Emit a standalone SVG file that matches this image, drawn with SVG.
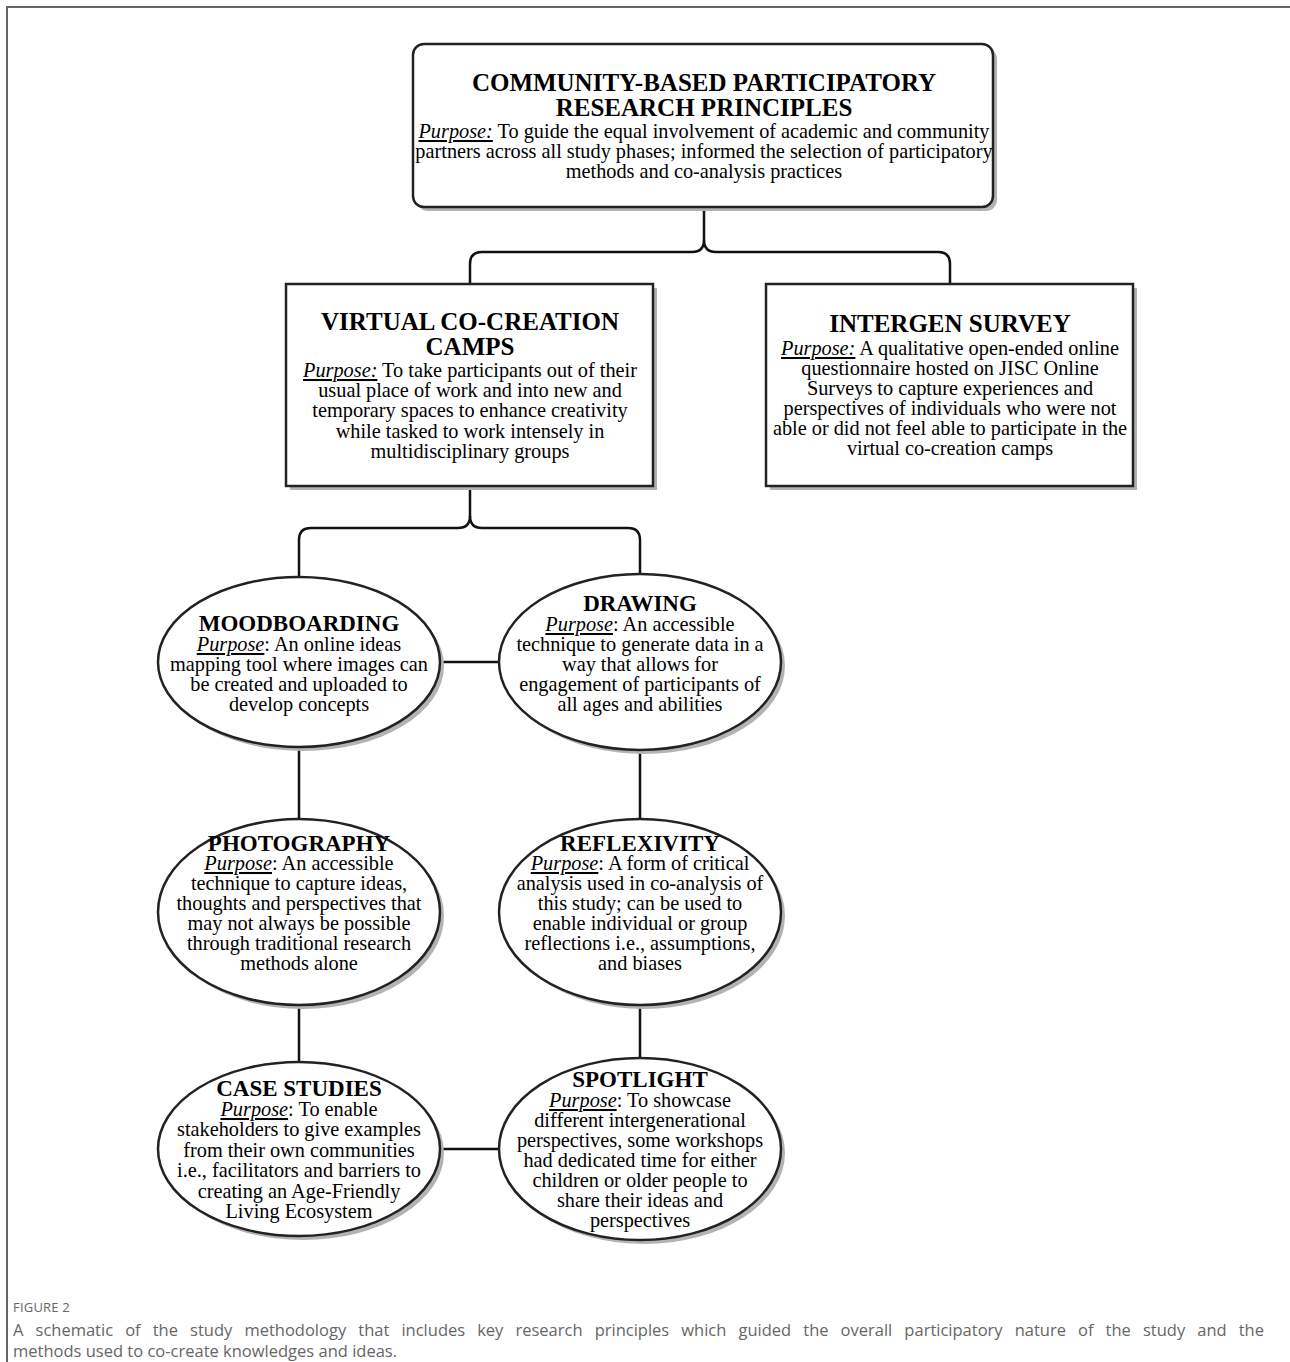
<svg xmlns="http://www.w3.org/2000/svg" width="1290" height="1362" viewBox="0 0 1290 1362">
<style>
.sh{fill:#b3b3b3;stroke:none}
.nd{fill:#fff;stroke:#222;stroke-width:2.5}
.cn{fill:none;stroke:#111;stroke-width:2.5}
.h{font-family:"Liberation Serif","Times New Roman",serif;font-weight:bold;font-size:25px;fill:#000;text-anchor:middle}
.eh{font-family:"Liberation Serif","Times New Roman",serif;font-weight:bold;font-size:23px;fill:#000;text-anchor:middle}
.b{font-family:"Liberation Serif","Times New Roman",serif;font-size:20.3px;fill:#000;text-anchor:middle}
.p{font-style:italic;text-decoration:underline}
.cap1{font-family:"Open Sans","Noto Sans",sans-serif;font-size:13px;fill:#666;letter-spacing:0.2px}
.cap2{font-family:"Open Sans","Noto Sans",sans-serif;font-size:16.5px;fill:#666}
</style>
<rect width="1290" height="1362" fill="#fff"/>
<path d="M7 1362 V7 H1290" fill="none" stroke="#666" stroke-width="2"/>

<g id="connectors">
<path class="cn" d="M704 207 V240 Q704 252 692 252 H482 Q470 252 470 264 V284"/>
<path class="cn" d="M704 240 Q704 252 716 252 H938 Q950 252 950 264 V284"/>
<path class="cn" d="M470 486 V516 Q470 528 458 528 H311 Q299 528 299 540 V577"/>
<path class="cn" d="M470 516 Q470 528 482 528 H628 Q640 528 640 540 V575"/>
<path class="cn" d="M440 662 H499"/>
<path class="cn" d="M299 747 V820"/>
<path class="cn" d="M640 750 V820"/>
<path class="cn" d="M299 1004 V1062"/>
<path class="cn" d="M640 1004 V1058"/>
<path class="cn" d="M440 1149 H499"/>
</g>

<g id="cbpr">
<rect class="sh" x="417" y="48" width="580" height="163" rx="11"/>
<rect class="nd" x="413" y="44" width="580" height="163" rx="11"/>
<text class="h" x="704" y="91">COMMUNITY-BASED PARTICIPATORY</text>
<text class="h" x="704" y="116">RESEARCH PRINCIPLES</text>
<text class="b" x="704" y="138"><tspan class="p">Purpose:</tspan> To guide the equal involvement of academic and community</text>
<text class="b" x="704" y="158">partners across all study phases; informed the selection of participatory</text>
<text class="b" x="704" y="178">methods and co-analysis practices</text>
</g>

<g id="camps">
<rect class="sh" x="290" y="288" width="367" height="202"/>
<rect class="nd" x="286" y="284" width="367" height="202"/>
<text class="h" x="470" y="330">VIRTUAL CO-CREATION</text>
<text class="h" x="470" y="355">CAMPS</text>
<text class="b" x="470" y="377"><tspan class="p">Purpose:</tspan> To take participants out of their</text>
<text class="b" x="470" y="397">usual place of work and into new and</text>
<text class="b" x="470" y="417">temporary spaces to enhance creativity</text>
<text class="b" x="470" y="438">while tasked to work intensely in</text>
<text class="b" x="470" y="458">multidisciplinary groups</text>
</g>

<g id="survey">
<rect class="sh" x="770" y="288" width="367" height="202"/>
<rect class="nd" x="766" y="284" width="367" height="202"/>
<text class="h" x="950" y="332">INTERGEN SURVEY</text>
<text class="b" x="950" y="355"><tspan class="p">Purpose:</tspan> A qualitative open-ended online</text>
<text class="b" x="950" y="375">questionnaire hosted on JISC Online</text>
<text class="b" x="950" y="395">Surveys to capture experiences and</text>
<text class="b" x="950" y="415">perspectives of individuals who were not</text>
<text class="b" x="950" y="435">able or did not feel able to participate in the</text>
<text class="b" x="950" y="455">virtual co-creation camps</text>
</g>

<g id="moodboarding">
<ellipse class="sh" cx="303" cy="666" rx="141" ry="85"/>
<ellipse class="nd" cx="299" cy="662" rx="141" ry="85"/>
<text class="eh" x="299" y="631">MOODBOARDING</text>
<text class="b" x="299" y="651"><tspan class="p">Purpose</tspan>: An online ideas</text>
<text class="b" x="299" y="671">mapping tool where images can</text>
<text class="b" x="299" y="691">be created and uploaded to</text>
<text class="b" x="299" y="711">develop concepts</text>
</g>

<g id="drawing">
<ellipse class="sh" cx="644" cy="666" rx="141" ry="88"/>
<ellipse class="nd" cx="640" cy="662" rx="141" ry="88"/>
<text class="eh" x="640" y="611">DRAWING</text>
<text class="b" x="640" y="631"><tspan class="p">Purpose</tspan>: An accessible</text>
<text class="b" x="640" y="651">technique to generate data in a</text>
<text class="b" x="640" y="671">way that allows for</text>
<text class="b" x="640" y="691">engagement of participants of</text>
<text class="b" x="640" y="711">all ages and abilities</text>
</g>

<g id="photography">
<ellipse class="sh" cx="303" cy="916" rx="141" ry="93"/>
<ellipse class="nd" cx="299" cy="912" rx="141" ry="93"/>
<text class="eh" x="299" y="851">PHOTOGRAPHY</text>
<text class="b" x="299" y="870"><tspan class="p">Purpose</tspan>: An accessible</text>
<text class="b" x="299" y="890">technique to capture ideas,</text>
<text class="b" x="299" y="910">thoughts and perspectives that</text>
<text class="b" x="299" y="930">may not always be possible</text>
<text class="b" x="299" y="950">through traditional research</text>
<text class="b" x="299" y="970">methods alone</text>
</g>

<g id="reflexivity">
<ellipse class="sh" cx="644" cy="916" rx="141" ry="93"/>
<ellipse class="nd" cx="640" cy="912" rx="141" ry="93"/>
<text class="eh" x="640" y="851">REFLEXIVITY</text>
<text class="b" x="640" y="870"><tspan class="p">Purpose</tspan>: A form of critical</text>
<text class="b" x="640" y="890">analysis used in co-analysis of</text>
<text class="b" x="640" y="910">this study; can be used to</text>
<text class="b" x="640" y="930">enable individual or group</text>
<text class="b" x="640" y="950">reflections i.e., assumptions,</text>
<text class="b" x="640" y="970">and biases</text>
</g>

<g id="casestudies">
<ellipse class="sh" cx="303" cy="1153" rx="141" ry="87"/>
<ellipse class="nd" cx="299" cy="1149" rx="141" ry="87"/>
<text class="eh" x="299" y="1096">CASE STUDIES</text>
<text class="b" x="299" y="1116"><tspan class="p">Purpose</tspan>: To enable</text>
<text class="b" x="299" y="1136">stakeholders to give examples</text>
<text class="b" x="299" y="1157">from their own communities</text>
<text class="b" x="299" y="1177">i.e., facilitators and barriers to</text>
<text class="b" x="299" y="1198">creating an Age-Friendly</text>
<text class="b" x="299" y="1218">Living Ecosystem</text>
</g>

<g id="spotlight">
<ellipse class="sh" cx="644" cy="1153" rx="141" ry="91"/>
<ellipse class="nd" cx="640" cy="1149" rx="141" ry="91"/>
<text class="eh" x="640" y="1087">SPOTLIGHT</text>
<text class="b" x="640" y="1107"><tspan class="p">Purpose</tspan>: To showcase</text>
<text class="b" x="640" y="1127">different intergenerational</text>
<text class="b" x="640" y="1147">perspectives, some workshops</text>
<text class="b" x="640" y="1167">had dedicated time for either</text>
<text class="b" x="640" y="1187">children or older people to</text>
<text class="b" x="640" y="1207">share their ideas and</text>
<text class="b" x="640" y="1227">perspectives</text>
</g>

<text class="cap1" x="13" y="1312">FIGURE 2</text>
<text class="cap2" x="13" y="1336" word-spacing="7.8">A schematic of the study methodology that includes key research principles which guided the overall participatory nature of the study and the</text>
<text class="cap2" x="13" y="1357">methods used to co-create knowledges and ideas.</text>
</svg>
